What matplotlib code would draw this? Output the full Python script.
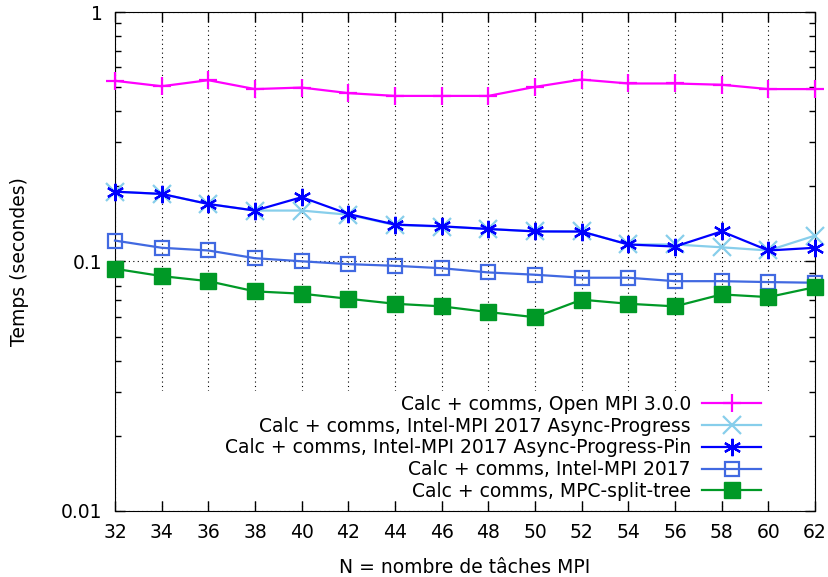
import matplotlib
matplotlib.use("Agg")
import matplotlib.pyplot as plt
from matplotlib.patches import Rectangle
from matplotlib.ticker import LogLocator, FixedLocator, NullFormatter

# nombre de taches MPI
n_taches = [32, 34, 36, 38, 40, 42, 44, 46, 48, 50, 52, 54, 56, 58, 60, 62]

openmpi = [0.530, 0.504, 0.533, 0.491, 0.498, 0.473, 0.461, 0.461,
           0.461, 0.501, 0.536, 0.517, 0.517, 0.511, 0.491, 0.491]
intel_async = [0.1905, 0.1866, 0.170, 0.160, 0.160, 0.154, 0.140, 0.138,
               0.135, 0.132, 0.132, 0.117, 0.117, 0.114, 0.1107, 0.127]
intel_async_pin = [0.1905, 0.1866, 0.170, 0.160, 0.181, 0.155, 0.1406, 0.1384,
                   0.135, 0.132, 0.1318, 0.117, 0.1148, 0.132, 0.1107, 0.1135]
intel = [0.1213, 0.1135, 0.1107, 0.1031, 0.1002, 0.0976, 0.0961, 0.094,
         0.0904, 0.0885, 0.0861, 0.0861, 0.0834, 0.0834, 0.0827, 0.0822]
mpc = [0.0935, 0.0874, 0.0834, 0.0759, 0.0743, 0.0709, 0.0677, 0.0661,
       0.0627, 0.0598, 0.0703, 0.0677, 0.0661, 0.0738, 0.072, 0.0789]

labels = ["Calc + comms, Open MPI 3.0.0",
          "Calc + comms, Intel-MPI 2017 Async-Progress",
          "Calc + comms, Intel-MPI 2017 Async-Progress-Pin",
          "Calc + comms, Intel-MPI 2017",
          "Calc + comms, MPC-split-tree"]

plt.rcParams['font.family'] = 'DejaVu Sans'
plt.rcParams['font.size'] = 13.5

fig = plt.figure(figsize=(8.29, 5.77), dpi=100)
ax = fig.add_axes([0.1387, 0.1144, 0.8444, 0.8648])

lw = 1.6
ax.plot(n_taches, openmpi, color='#ff00ff', lw=lw, marker='+', ms=13, mew=1.6,
        label=labels[0], clip_on=False, zorder=3)
ax.plot(n_taches, intel_async, color='#87ceeb', lw=lw, marker='x', ms=13, mew=1.6,
        label=labels[1], clip_on=False, zorder=3)
ax.plot(n_taches, intel_async_pin, color='#0000ff', lw=lw, marker=(6, 2, 0), ms=12.5, mew=1.6,
        label=labels[2], clip_on=False, zorder=3)
ax.plot(n_taches, intel, color='#4169e1', lw=lw, marker='s', ms=10, mew=1.6,
        mfc='none', label=labels[3], clip_on=False, zorder=3)
ax.plot(n_taches, mpc, color='#009926', lw=lw, marker='s', ms=12,
        label=labels[4], clip_on=False, zorder=3)

ax.set_yscale('log')
ax.set_xlim(32, 62)
ax.set_ylim(0.01, 1)
ax.set_xticks(n_taches)
ax.yaxis.set_major_locator(FixedLocator([0.01, 0.1, 1]))
ax.set_yticklabels(["0.01", "0.1", "1"])
ax.yaxis.set_minor_locator(LogLocator(base=10, subs=range(2, 10)))
ax.yaxis.set_minor_formatter(NullFormatter())

ax.tick_params(which='both', direction='in', top=True, right=True, width=1)
ax.tick_params(which='major', length=7, pad=9)
ax.tick_params(which='minor', length=4)

ax.set_axisbelow(True)
ax.grid(True, which='major', color='black', ls=(0, (1, 3)), lw=0.8)
# zone blanche de la legende
ax.add_patch(Rectangle((0.02, 0.02), 0.96, 0.22, transform=ax.transAxes,
                       facecolor='white', edgecolor='none', zorder=1))

ax.set_xlabel("N = nombre de tâches MPI", labelpad=11)
ax.set_ylabel("Temps (secondes)", labelpad=23)

leg = ax.legend(loc='lower right', bbox_to_anchor=(0.923, 0.02), markerfirst=False,
                frameon=False, handlelength=3.15, labelspacing=0.15, borderaxespad=0,
                borderpad=0, handletextpad=0.6)

fig.savefig("out.png", dpi=100)
